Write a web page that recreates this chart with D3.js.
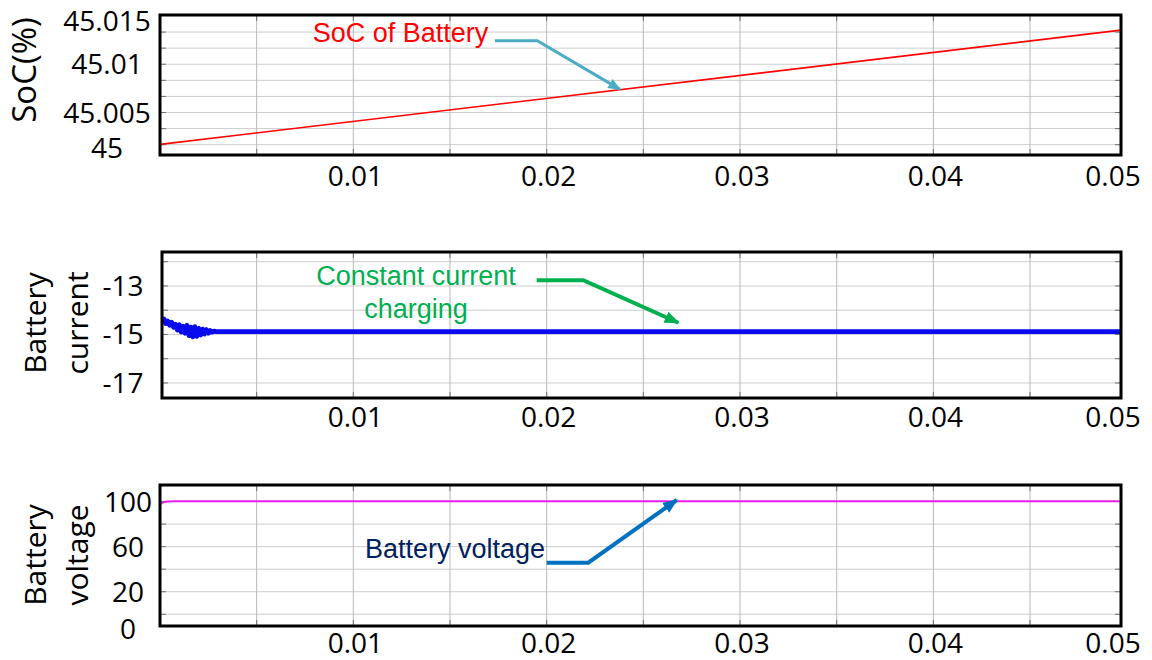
<!DOCTYPE html>
<html>
<head>
<meta charset="utf-8">
<script src="https://cdn.jsdelivr.net/npm/d3@7"></script>
<style>
  html, body { margin: 0; padding: 0; background: #fff; }
  svg { display: block; }
</style>
</head>
<body>
<svg id="chart" width="1152" height="660"></svg>
<script>
// ---- Data -------------------------------------------------------------
// Simulation time axis (s)
const timeTicks = [0.01, 0.02, 0.03, 0.04, 0.05];

// State of charge (%) — rises linearly while charging
const socTime   = [0, 0.05];
const socValues = [45.0017, 45.0136];
const socTicks  = [45, 45.005, 45.01, 45.015];

// Battery current (A) — start-up transient, then constant-current charging
const currentTime = [0, 0.0001, 0.0002, 0.0003, 0.0004, 0.0005, 0.0006, 0.0007, 0.0008, 0.0009,
  0.0010, 0.0011, 0.0012, 0.0013, 0.0014, 0.0015, 0.0016, 0.0017, 0.0018, 0.0019,
  0.0020, 0.0021, 0.0022, 0.0023, 0.0024, 0.0025, 0.0026, 0.0027, 0.0028, 0.0029,
  0.0030, 0.05];
const currentValues = [-14.30, -14.42, -14.36, -14.55, -14.45, -14.62, -14.50, -14.70, -14.58, -14.82,
  -14.60, -14.90, -14.66, -14.95, -14.62, -15.05, -14.70, -15.10, -14.68, -15.08,
  -14.75, -15.02, -14.78, -14.98, -14.80, -14.95, -14.84, -14.90, -14.86, -14.88,
  -14.88, -14.88];
const currentTicks = [-17, -15, -13];

// Battery voltage (V)
const voltageTime   = [0, 0.0001, 0.0002, 0.0004, 0.0008, 0.05];
const voltageValues = [97.3, 98.8, 99.6, 100.1, 100.3, 100.3];
const voltageTicks  = [0, 20, 60, 100];

// ---- Layout -----------------------------------------------------------
const svg = d3.select("#chart");
const AXIS_FONT = "'Open Sans', 'DejaVu Sans', sans-serif";
const NOTE_FONT = "'Liberation Sans', Arial, sans-serif";

const x = d3.scaleLinear().domain([0, 0.05]).range([160, 1126.7]);
const vGrid = d3.range(1, 10).map(k => k * 0.005);

const panels = [
  {
    id: "soc", left: 160, right: 1121, top: 15, bottom: 155,
    domain: [45.0006, 45.0151],
    grid: d3.range(1, 9).map(k => 45 + k * 0.005 / 3),
    ticks: socTicks, fmt: v => String(+v.toFixed(3)),
    tickX: 107, lowClamp: -7,
    xLabelBase: 31,
    title: ["SoC(%)"], titleSize: 33, titleBase: [36], titleY: 70,
    time: socTime, values: socValues, color: "#ff0000", width: 1.6
  },
  {
    id: "cur", left: 162, right: 1121, top: 252, bottom: 398,
    domain: [-17.62, -11.6],
    grid: d3.range(-17, -11),
    ticks: currentTicks, fmt: v => String(v),
    tickX: 123, lowClamp: null,
    xLabelBase: 29,
    title: ["Battery", "current"], titleSize: 30, titleBase: [46, 88], titleY: 323,
    time: currentTime, values: currentValues, color: "#0a0aee", width: 4.8
  },
  {
    id: "volt", left: 160, right: 1121, top: 485, bottom: 626,
    domain: [-10.4, 114.7],
    grid: [0, 20, 40, 60, 80, 100],
    ticks: voltageTicks, fmt: v => String(v),
    tickX: 128, lowClamp: 2.5,
    xLabelBase: 27,
    title: ["Battery", "voltage"], titleSize: 30, titleBase: [46, 88], titleY: 555,
    time: voltageTime, values: voltageValues, color: "#e81ee8", width: 2
  }
];

// arrowhead markers
const defs = svg.append("defs");
function marker(id, color, size) {
  defs.append("marker")
    .attr("id", id)
    .attr("viewBox", "0 0 10 10")
    .attr("refX", 9).attr("refY", 5)
    .attr("markerUnits", "userSpaceOnUse")
    .attr("markerWidth", size).attr("markerHeight", size)
    .attr("orient", "auto")
    .append("path")
    .attr("d", "M0,1 L10,5 L0,9 Z")
    .attr("fill", color);
}
marker("arrCyan", "#4bacc6", 13);
marker("arrGreen", "#00b050", 15);
marker("arrBlue", "#0070c0", 15);

panels.forEach(p => {
  const y = d3.scaleLinear().domain(p.domain).range([p.bottom, p.top]);
  p.y = y;
  const g = svg.append("g").attr("class", "panel-" + p.id);

  defs.append("clipPath").attr("id", "clip-" + p.id)
    .append("rect")
    .attr("x", p.left).attr("y", p.top)
    .attr("width", p.right - p.left).attr("height", p.bottom - p.top);

  // horizontal grid
  g.append("g").selectAll("line")
    .data(p.grid.filter(v => y(v) > p.top + 3 && y(v) < p.bottom - 3))
    .join("line")
    .attr("x1", p.left).attr("x2", p.right)
    .attr("y1", d => y(d)).attr("y2", d => y(d))
    .attr("stroke", "#cdcdcd").attr("stroke-width", 1);

  // vertical grid
  g.append("g").selectAll("line")
    .data(vGrid.filter(t => x(t) > p.left + 3 && x(t) < p.right - 3))
    .join("line")
    .attr("x1", d => x(d)).attr("x2", d => x(d))
    .attr("y1", p.top).attr("y2", p.bottom)
    .attr("stroke", "#b8b8b8").attr("stroke-width", 1);

  // inner tick marks along the frame
  const tk = g.append("g").attr("stroke", "#707070").attr("stroke-width", 1);
  vGrid.filter(t => x(t) > p.left + 3 && x(t) < p.right - 3).forEach(t => {
    tk.append("line").attr("x1", x(t)).attr("x2", x(t)).attr("y1", p.top).attr("y2", p.top + 6);
    tk.append("line").attr("x1", x(t)).attr("x2", x(t)).attr("y1", p.bottom).attr("y2", p.bottom - 6);
  });
  p.grid.filter(v => y(v) > p.top + 3 && y(v) < p.bottom - 3).forEach(v => {
    tk.append("line").attr("x1", p.left).attr("x2", p.left + 6).attr("y1", y(v)).attr("y2", y(v));
    tk.append("line").attr("x1", p.right).attr("x2", p.right - 6).attr("y1", y(v)).attr("y2", y(v));
  });

  // data line
  const pts = p.time.map((t, i) => [t, p.values[i]]);
  g.append("path")
    .datum(pts)
    .attr("clip-path", "url(#clip-" + p.id + ")")
    .attr("fill", "none")
    .attr("stroke", p.color)
    .attr("stroke-width", p.width)
    .attr("stroke-linejoin", "round")
    .attr("d", d3.line().x(d => x(d[0])).y(d => y(d[1])));

  // frame
  g.append("rect")
    .attr("x", p.left).attr("y", p.top)
    .attr("width", p.right - p.left).attr("height", p.bottom - p.top)
    .attr("fill", "none").attr("stroke", "#000").attr("stroke-width", 3);

  // x tick labels
  g.append("g").selectAll("text")
    .data(timeTicks)
    .join("text")
    .attr("x", d => Math.min(x(d) + 2, 1113))
    .attr("y", p.bottom + p.xLabelBase)
    .attr("text-anchor", "middle")
    .attr("font-family", AXIS_FONT).attr("font-size", 28)
    .attr("fill", "#000")
    .text(d => String(d));

  // y tick labels
  const lowest = d3.min(p.ticks);
  g.append("g").selectAll("text")
    .data(p.ticks)
    .join("text")
    .attr("x", p.tickX)
    .attr("y", d => {
      let c = Math.max(y(d), 21);
      if (d === lowest && p.lowClamp !== null) c = p.bottom + p.lowClamp;
      return c + 10;
    })
    .attr("text-anchor", "middle")
    .attr("font-family", AXIS_FONT).attr("font-size", 28)
    .attr("fill", "#000")
    .text(p.fmt);

  // y axis title (rotated)
  p.title.forEach((line, i) => {
    g.append("text")
      .attr("transform", `translate(${p.titleBase[i]},${p.titleY}) rotate(-90)`)
      .attr("text-anchor", "middle")
      .attr("font-family", AXIS_FONT).attr("font-size", p.titleSize)
      .attr("fill", "#000")
      .text(line);
  });
});

// ---- Annotations (placed in each panel's data units) ------------------
const [pSoc, pCur, pVolt] = panels;
const elbow = d3.line().x(d => x(d[0]));

// SoC
svg.append("text")
  .attr("x", x(0.0079)).attr("y", pSoc.y(45.01233))
  .attr("font-family", NOTE_FONT).attr("font-size", 27)
  .attr("fill", "#ff0000")
  .text("SoC of Battery");
svg.append("path")
  .datum([[0.017327, 45.01244], [0.019515, 45.01244], [0.023792, 45.0074]])
  .attr("d", elbow.y(d => pSoc.y(d[1])))
  .attr("fill", "none").attr("stroke", "#4bacc6").attr("stroke-width", 3)
  .attr("marker-end", "url(#arrCyan)");

// Current
const curNote = svg.append("text")
  .attr("font-family", NOTE_FONT).attr("font-size", 27)
  .attr("fill", "#00b050").attr("text-anchor", "middle");
curNote.append("tspan").attr("x", x(0.013241)).attr("y", pCur.y(-12.9675)).text("Constant current");
curNote.append("tspan").attr("x", x(0.013241)).attr("y", pCur.y(-14.335)).text("charging");
svg.append("path")
  .datum([[0.019484, -12.762], [0.021894, -12.762], [0.026808, -14.516]])
  .attr("d", elbow.y(d => pCur.y(d[1])))
  .attr("fill", "none").attr("stroke", "#00b050").attr("stroke-width", 4)
  .attr("marker-end", "url(#arrGreen)");

// Voltage
svg.append("text")
  .attr("x", x(0.010603)).attr("y", pVolt.y(49.66))
  .attr("font-family", NOTE_FONT).attr("font-size", 27)
  .attr("fill", "#002060")
  .text("Battery voltage");
svg.append("path")
  .datum([[0.020001, 45.76], [0.022152, 45.76], [0.026725, 101.39]])
  .attr("d", elbow.y(d => pVolt.y(d[1])))
  .attr("fill", "none").attr("stroke", "#0070c0").attr("stroke-width", 4)
  .attr("marker-end", "url(#arrBlue)");
</script>
</body>
</html>
